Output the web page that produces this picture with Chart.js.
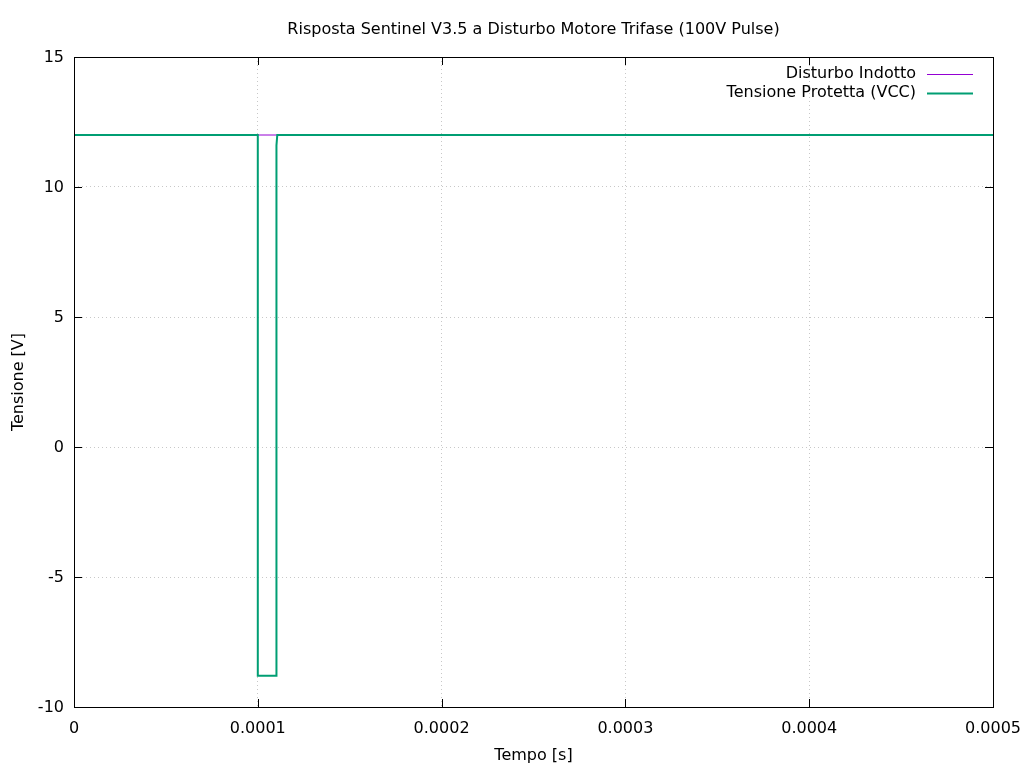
<!DOCTYPE html>
<html>
<head>
<meta charset="utf-8">
<script src="https://cdn.jsdelivr.net/npm/chart.js@4/dist/chart.umd.min.js"></script>
<style>
  html, body { margin: 0; padding: 0; background: #fff; }
  #wrap { width: 1024px; height: 768px; }
</style>
</head>
<body>
<div id="wrap"><canvas id="chart" width="1024" height="768"></canvas></div>
<script>
// data
const xTickLabels = ["0", "0.0001", "0.0002", "0.0003", "0.0004", "0.0005"];
const yTickLabels = ["-10", "-5", "0", "5", "10", "15"];

const disturboTime = [0, 0.0001, 0.00011, 0.0005];
const disturboVolt = [12, 12, 12, 12];

const vccTime = [0, 0.0001, 0.0001, 0.00011, 0.00011, 0.0001103, 0.0001106, 0.0005];
const vccVolt = [12, 12, -8.8, -8.8, 11.4, 11.6, 12, 12];

const TITLE = "Risposta Sentinel V3.5 a Disturbo Motore Trifase (100V Pulse)";
const FONT = "DejaVu Sans";

function toPoints(xs, ys) {
    return xs.map((x, i) => ({ x: x, y: ys[i] }));
}

// gnuplot style frame: title over the plot, box, inward mirrored ticks, key top right
const gnuplotFrame = {
    id: "gnuplotFrame",
    afterDatasetsDraw(chart) {
        const ctx = chart.ctx;
        const a = chart.chartArea;
        const xs = chart.scales.x, ys = chart.scales.y;
        const tick = 8;
        ctx.save();
        ctx.strokeStyle = "#000";
        ctx.lineWidth = 1;
        ctx.beginPath();
        xs.ticks.forEach(t => {
            const px = Math.round(xs.getPixelForValue(t.value)) + 0.5;
            ctx.moveTo(px, a.bottom); ctx.lineTo(px, a.bottom - tick);
            ctx.moveTo(px, a.top); ctx.lineTo(px, a.top + tick);
        });
        ys.ticks.forEach(t => {
            const py = Math.round(ys.getPixelForValue(t.value)) + 0.5;
            ctx.moveTo(a.left, py); ctx.lineTo(a.left + tick, py);
            ctx.moveTo(a.right, py); ctx.lineTo(a.right - tick, py);
        });
        ctx.stroke();
        ctx.strokeRect(Math.round(a.left) + 0.5, Math.round(a.top) + 0.5,
            Math.round(a.right - a.left), Math.round(a.bottom - a.top));

        ctx.font = "16px '" + FONT + "'";
        ctx.fillStyle = "#000";
        ctx.textBaseline = "middle";

        // title, centred on the plot area like gnuplot
        ctx.textAlign = "center";
        ctx.fillText(TITLE, (a.left + a.right) / 2, 30);

        // key
        ctx.textAlign = "right";
        chart.data.datasets.forEach((ds, i) => {
            const y = a.top + 17 + i * 19;
            ctx.fillText(ds.label, a.right - 77, y);
            ctx.strokeStyle = ds.borderColor;
            ctx.lineWidth = ds.borderWidth;
            ctx.beginPath();
            ctx.moveTo(a.right - 66, y + 0.5);
            ctx.lineTo(a.right - 20, y + 0.5);
            ctx.stroke();
        });
        ctx.restore();
    }
};

new Chart(document.getElementById("chart").getContext("2d"), {
    type: "line",
    data: {
        datasets: [{
            label: "Disturbo Indotto",
            data: toPoints(disturboTime, disturboVolt),
            borderColor: "#9400d3",
            borderWidth: 1,
            pointRadius: 0,
            tension: 0,
            order: 2
        }, {
            label: "Tensione Protetta (VCC)",
            data: toPoints(vccTime, vccVolt),
            borderColor: "#009e73",
            borderWidth: 2,
            pointRadius: 0,
            tension: 0,
            order: 1
        }]
    },
    options: {
        responsive: false,
        animation: false,
        layout: { padding: { left: 0, right: 31, top: 57, bottom: 0 } },
        plugins: {
            legend: { display: false },
            tooltip: { enabled: false },
            title: { display: false }
        },
        scales: {
            x: {
                type: "linear",
                min: 0,
                max: 0.0005,
                ticks: {
                    stepSize: 0.0001,
                    color: "#000",
                    padding: 12,
                    maxRotation: 0,
                    font: { family: FONT, size: 16 },
                    callback: (v, i) => xTickLabels[i]
                },
                grid: {
                    color: "#c8c8c8",
                    drawTicks: false
                },
                border: { display: false, dash: [1, 3] },
                title: {
                    display: true,
                    text: "Tempo [s]",
                    color: "#000",
                    font: { family: FONT, size: 16 },
                    padding: { top: 0, bottom: 3 }
                },
                afterFit: s => { s.height = 61; s.paddingRight = 0; s.paddingLeft = 0; }
            },
            y: {
                min: -10,
                max: 15,
                ticks: {
                    stepSize: 5,
                    color: "#000",
                    padding: 10,
                    labelOffset: 1,
                    font: { family: FONT, size: 16 },
                    callback: (v, i) => yTickLabels[i]
                },
                grid: {
                    color: "#c8c8c8",
                    drawTicks: false
                },
                border: { display: false, dash: [1, 3] },
                title: {
                    display: true,
                    text: "Tensione [V]",
                    color: "#000",
                    font: { family: FONT, size: 16 },
                    padding: { top: 9, bottom: 0 }
                },
                afterFit: s => { s.width = 74; s.paddingTop = 0; s.paddingBottom = 0; }
            }
        }
    },
    plugins: [gnuplotFrame]
});
</script>
</body>
</html>
